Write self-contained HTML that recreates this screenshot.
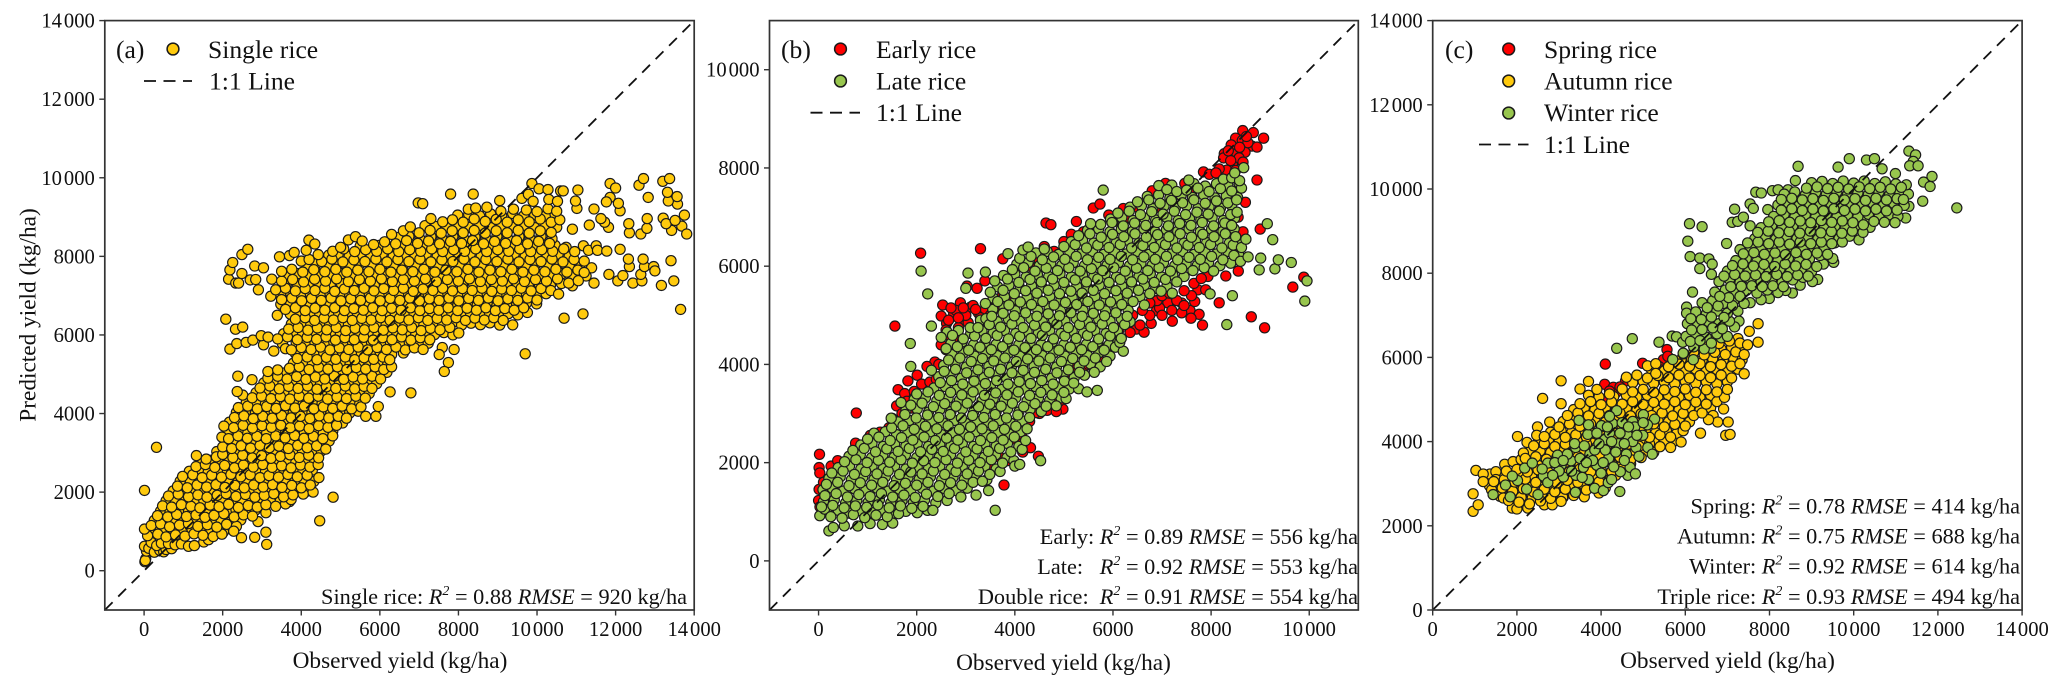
<!DOCTYPE html>
<html lang="en">
<head>
<meta charset="utf-8">
<title>Observed vs predicted rice yield</title>
<style>
html,body{margin:0;padding:0;background:#fff;width:2067px;height:688px;overflow:hidden}
svg{display:block;font-family:"Liberation Serif",serif;fill:#111}
</style>
</head>
<body>
<svg id="chart" xmlns="http://www.w3.org/2000/svg" width="2067" height="688" viewBox="0 0 2067 688">
  <rect x="0" y="0" width="2067" height="688" fill="#fff"/>
  <g id="marks"></g>

  <text x="116" y="58" font-size="25.6">(a)</text>
  <text x="208" y="58" font-size="25.6">Single rice</text>
  <text x="209" y="89.5" font-size="25.6">1:1 Line</text>

  <text x="781" y="58" font-size="25.6">(b)</text>
  <text x="876" y="58" font-size="25.6">Early rice</text>
  <text x="876" y="89.5" font-size="25.6">Late rice</text>
  <text x="876" y="121" font-size="25.6">1:1 Line</text>

  <text x="1445" y="58" font-size="25.6">(c)</text>
  <text x="1544" y="58" font-size="25.6">Spring rice</text>
  <text x="1544" y="89.5" font-size="25.6">Autumn rice</text>
  <text x="1544" y="121" font-size="25.6">Winter rice</text>
  <text x="1544" y="153" font-size="25.6">1:1 Line</text>

  <g font-size="22.3" text-anchor="end">
    <text x="687" y="604">Single rice: <tspan font-style="italic">R</tspan><tspan dy="-9" font-size="14" font-style="italic">2</tspan><tspan dy="9"> = 0.88 </tspan><tspan font-style="italic">RMSE</tspan> = 920 kg/ha</text>

    <text x="1358" y="544">Early: <tspan font-style="italic">R</tspan><tspan dy="-9" font-size="14" font-style="italic">2</tspan><tspan dy="9"> = 0.89 </tspan><tspan font-style="italic">RMSE</tspan> = 556 kg/ha</text>
    <text x="1358" y="574">Late:&#160;&#160;&#160;<tspan font-style="italic">R</tspan><tspan dy="-9" font-size="14" font-style="italic">2</tspan><tspan dy="9"> = 0.92 </tspan><tspan font-style="italic">RMSE</tspan> = 553 kg/ha</text>
    <text x="1358" y="604">Double rice:&#160;&#160;<tspan font-style="italic">R</tspan><tspan dy="-9" font-size="14" font-style="italic">2</tspan><tspan dy="9"> = 0.91 </tspan><tspan font-style="italic">RMSE</tspan> = 554 kg/ha</text>

    <text x="2020" y="513.5">Spring: <tspan font-style="italic">R</tspan><tspan dy="-9" font-size="14" font-style="italic">2</tspan><tspan dy="9"> = 0.78 </tspan><tspan font-style="italic">RMSE</tspan> = 414 kg/ha</text>
    <text x="2020" y="543.5">Autumn: <tspan font-style="italic">R</tspan><tspan dy="-9" font-size="14" font-style="italic">2</tspan><tspan dy="9"> = 0.75 </tspan><tspan font-style="italic">RMSE</tspan> = 688 kg/ha</text>
    <text x="2020" y="573.5">Winter: <tspan font-style="italic">R</tspan><tspan dy="-9" font-size="14" font-style="italic">2</tspan><tspan dy="9"> = 0.92 </tspan><tspan font-style="italic">RMSE</tspan> = 614 kg/ha</text>
    <text x="2020" y="604">Triple rice: <tspan font-style="italic">R</tspan><tspan dy="-9" font-size="14" font-style="italic">2</tspan><tspan dy="9"> = 0.93 </tspan><tspan font-style="italic">RMSE</tspan> = 494 kg/ha</text>
  </g>

  <g font-size="23.3" text-anchor="middle">
    <text x="400" y="668">Observed yield (kg/ha)</text>
    <text x="1063.5" y="670">Observed yield (kg/ha)</text>
    <text x="1727.5" y="668">Observed yield (kg/ha)</text>
    <text transform="translate(35.5 315) rotate(-90)">Predicted yield (kg/ha)</text>
  </g>
</svg>

<script>
// Tick values (kg/ha)
const ticksA = [0,2000,4000,6000,8000,10000,12000,14000];
const ticksB = [0,2000,4000,6000,8000,10000];
const ticksC = [0,2000,4000,6000,8000,10000,12000,14000];

// Each point is [observed, predicted] in kg/ha
const singleRice = [
[250,1020],[500,1050],[740,990],[980,1030],[1220,1060],[1460,1000],[1700,1040],[1920,1010],
[260,1280],[510,1310],[750,1250],[1000,1300],[1240,1260],[1470,1320],[1720,1270],[1960,1300],[2210,1250],[2460,1290],
[420,1520],[660,1490],[900,1550],[1130,1510],[1380,1540],[1620,1490],[1850,1530],[2100,1500],[2340,1550],[2590,1510],[2830,1540],
[560,1780],[800,1750],[1050,1800],[1280,1760],[1520,1790],[1780,1740],[2010,1800],[2260,1750],[2500,1790],[2740,1760],[2980,1800],[3220,1750],[3470,1790],[3700,1760],
[740,2030],[990,2060],[1240,2000],[1480,2050],[1710,2010],[1960,2060],[2210,2000],[2440,2040],[2680,2010],[2920,2060],[3160,2000],[3410,2050],[3650,2010],[3890,2060],[4130,2020],
[920,2280],[1170,2310],[1410,2250],[1650,2300],[1900,2260],[2130,2310],[2380,2250],[2620,2290],[2860,2260],[3100,2310],[3340,2250],[3590,2300],[3830,2260],[4070,2310],[4320,2270],
[1150,2530],[1390,2560],[1630,2500],[1870,2550],[2120,2510],[2370,2560],[2610,2500],[2840,2540],[3090,2510],[3320,2560],[3560,2500],[3800,2550],[4040,2510],[4280,2560],
[1450,2780],[1690,2810],[1920,2750],[2170,2800],[2410,2760],[2650,2810],[2890,2750],[3130,2790],[3380,2760],[3620,2810],[3860,2750],[4100,2800],[4340,2760],
[1850,3030],[2100,3060],[2350,3000],[2590,3050],[2830,3010],[3070,3060],[3310,3000],[3550,3040],[3790,3010],[4030,3060],[4270,3000],[4510,3050],
[2070,3280],[2310,3310],[2550,3250],[2790,3300],[3030,3260],[3270,3310],[3510,3250],[3750,3290],[3990,3260],[4230,3310],[4470,3250],[4710,3300],
[2120,3530],[2400,3560],[2640,3500],[2880,3550],[3120,3510],[3360,3560],[3600,3500],[3840,3540],[4080,3510],[4320,3560],[4560,3500],[4800,3550],
[2170,3780],[2410,3810],[2650,3750],[2890,3800],[3130,3760],[3370,3810],[3610,3750],[3850,3790],[4090,3760],[4330,3810],[4570,3750],[4810,3800],[5050,3760],
[2350,4030],[2590,4060],[2830,4000],[3070,4050],[3310,4010],[3550,4060],[3790,4000],[4030,4040],[4270,4010],[4510,4060],[4750,4000],[4990,4050],[5230,4010],[5450,4060],
[2600,4280],[2850,4310],[3090,4250],[3330,4300],[3570,4260],[3810,4310],[4050,4250],[4290,4290],[4530,4260],[4770,4310],[5010,4250],[5250,4300],[5490,4260],
[2850,4530],[3090,4560],[3330,4500],[3570,4550],[3810,4510],[4050,4560],[4290,4500],[4530,4540],[4770,4510],[5010,4560],[5250,4500],[5490,4550],[5730,4510],
[3050,4780],[3290,4810],[3530,4750],[3770,4800],[4010,4760],[4250,4810],[4490,4750],[4730,4790],[4970,4760],[5210,4810],[5450,4750],[5690,4800],[5920,4760],
[3550,5030],[3790,5060],[4030,5000],[4270,5050],[4510,5010],[4750,5060],[4990,5000],[5230,5040],[5470,5010],[5710,5060],[5950,5000],[6180,5050],
[3800,5280],[4040,5310],[4280,5250],[4520,5300],[4760,5260],[5000,5310],[5240,5250],[5480,5290],[5720,5260],[5960,5310],[6200,5250],
[3850,5530],[4090,5560],[4330,5500],[4570,5550],[4810,5510],[5050,5560],[5290,5500],[5530,5540],[5770,5510],[6010,5560],[6300,5500],[6600,5540],
[3520,5780],[3870,5810],[4110,5750],[4350,5800],[4590,5760],[4830,5810],[5070,5750],[5310,5790],[5550,5760],[5790,5810],[6030,5750],[6270,5800],[6510,5760],[6750,5810],[6990,5750],[7230,5790],
[3550,6030],[3790,6060],[4030,6000],[4270,6050],[4510,6010],[4750,6060],[4990,6000],[5230,6040],[5470,6010],[5710,6060],[5950,6000],[6190,6050],[6430,6010],[6670,6060],[6910,6000],[7150,6040],[7390,6010],[7630,6060],[7860,6000],
[3750,6280],[4000,6310],[4240,6250],[4480,6300],[4720,6260],[4960,6310],[5200,6250],[5440,6290],[5680,6260],[5920,6310],[6160,6250],[6400,6300],[6640,6260],[6880,6310],[7120,6250],[7360,6290],[7600,6260],[7840,6310],[8080,6250],[8320,6300],[8560,6260],[8800,6310],[9050,6250],
[3720,6530],[3980,6560],[4230,6500],[4470,6550],[4710,6510],[4950,6560],[5190,6500],[5430,6540],[5670,6510],[5910,6560],[6150,6500],[6390,6550],[6630,6510],[6870,6560],[7110,6500],[7350,6540],[7590,6510],[7830,6560],[8070,6500],[8310,6550],[8550,6510],[8790,6560],[9030,6500],[9270,6540],[9510,6510],
[3480,6780],[3730,6810],[3980,6750],[4230,6800],[4480,6760],[4730,6810],[4980,6750],[5230,6790],[5480,6760],[5730,6810],[5980,6750],[6230,6800],[6480,6760],[6730,6810],[6980,6750],[7230,6790],[7480,6760],[7730,6810],[7980,6750],[8230,6800],[8480,6760],[8730,6810],[8980,6750],[9230,6790],[9480,6760],[9730,6810],
[3480,7030],[3730,7060],[3980,7000],[4230,7050],[4480,7010],[4730,7060],[4980,7000],[5230,7040],[5480,7010],[5730,7060],[5980,7000],[6230,7050],[6480,7010],[6730,7060],[6980,7000],[7230,7040],[7480,7010],[7730,7060],[7980,7000],[8230,7050],[8480,7010],[8730,7060],[8980,7000],[9230,7040],[9480,7010],[9730,7060],[9980,7000],[10230,7050],
[3620,7280],[3900,7310],[4180,7250],[4460,7300],[4740,7260],[5020,7310],[5300,7250],[5580,7290],[5860,7260],[6140,7310],[6420,7250],[6700,7300],[6980,7260],[7260,7310],[7540,7250],[7820,7290],[8100,7260],[8380,7310],[8660,7250],[8940,7300],[9220,7260],[9500,7310],[9780,7250],[10060,7290],[10340,7260],[10620,7310],[10900,7250],
[3640,7530],[3920,7560],[4200,7500],[4480,7550],[4760,7510],[5040,7560],[5320,7500],[5600,7540],[5880,7510],[6160,7560],[6440,7500],[6720,7550],[7000,7510],[7280,7560],[7560,7500],[7840,7540],[8120,7510],[8400,7560],[8680,7500],[8960,7550],[9240,7510],[9520,7560],[9800,7500],[10080,7540],[10360,7510],[10640,7560],[10920,7500],[11250,7500],
[4140,7780],[4380,7810],[4660,7750],[4940,7800],[5220,7760],[5500,7810],[5780,7750],[6060,7790],[6340,7760],[6620,7810],[6900,7750],[7180,7790],[7460,7760],[7740,7810],[8020,7750],[8300,7800],[8580,7760],[8860,7810],[9140,7750],[9420,7790],[9700,7760],[9980,7810],[10260,7750],[10540,7800],[10820,7760],[11100,7790],
[4700,8030],[4940,8060],[5220,8000],[5500,8050],[5780,8010],[6060,8060],[6340,8000],[6620,8040],[6900,8010],[7180,8060],[7460,8000],[7740,8050],[8020,8010],[8300,8060],[8580,8000],[8860,8040],[9140,8010],[9420,8060],[9700,8000],[9980,8050],[10260,8010],[10540,8060],[10820,8000],
[5500,8260],[5980,8280],[6260,8230],[6540,8280],[6820,8240],[7100,8290],[7380,8230],[7660,8270],[7940,8240],[8220,8290],[8500,8230],[8780,8280],[9060,8240],[9340,8290],[9620,8230],[9900,8270],[10180,8240],[10460,8280],[10740,8230],
[6460,8480],[6740,8510],[7020,8450],[7300,8500],[7580,8460],[7860,8510],[8140,8450],[8420,8490],[8700,8460],[8980,8510],[9260,8450],[9540,8500],[9820,8460],[10100,8510],[10380,8450],
[7150,8780],[7420,8760],[7700,8740],[7980,8780],[8260,8740],[8540,8790],[8820,8730],[9100,8770],[9380,8740],[9660,8790],[9940,8730],[10220,8770],[10500,8740],
[7980,9050],[8260,9070],[8540,9030],[8820,9080],[9100,9040],[9380,9090],[9660,9030],[9940,9060],[10220,9030],[10460,9070],
[20,230],[40,300],[30,260],[60,500],[10,620],[120,570],[260,470],[400,520],[500,480],[560,540],[700,560],[180,720],[320,640],[440,700],[620,690],[790,660],[950,680],[1130,620],[1280,640],[1520,730],[1640,790],[1850,950],[2020,990],
[90,890],[350,930],[560,860],[800,910],[1040,880],[1270,940],[1500,900],[1760,870],[1980,930],[10,1060],
[180,1150],[420,1190],[650,1120],[900,1160],[1130,1200],[1370,1130],[1610,1170],[1850,1110],[2100,1180],[2350,1130],[2900,1250],[3100,980],[3120,670],[2815,850],[2480,840],[2280,1005],
[340,1400],[600,1370],[830,1430],[1080,1380],[1320,1420],[1550,1360],[1780,1410],[2030,1450],[2290,1370],[2530,1420],[2760,1390],[3100,1475],[4470,1270],
[470,1650],[700,1620],[950,1680],[1190,1640],[1420,1600],[1680,1670],[1910,1630],[2150,1690],[2400,1610],[2650,1660],[2880,1620],[3100,1680],[3350,1640],[3600,1700],[3740,1810],
[620,1900],[870,1950],[1130,1880],[1370,1930],[1600,1870],[1860,1920],[2090,1960],[2340,1890],[2580,1940],[2820,1870],[3060,1920],[3300,1960],[3550,1880],[3790,1930],[4050,1950],[4300,2000],[4810,1870],[10,2045],
[850,2150],[1100,2110],[1350,2180],[1590,2130],[1830,2190],[2060,2120],[2310,2170],[2550,2110],[2790,2180],[3030,2130],[3270,2190],[3510,2120],[3760,2170],[4000,2110],[4230,2180],
[980,2400],[1240,2440],[1480,2370],[1720,2430],[1970,2380],[2210,2450],[2460,2390],[2700,2440],[2950,2370],[3180,2420],[3420,2380],[3660,2450],[3900,2390],[4150,2430],[4450,2370],
[1320,2650],[1560,2700],[1800,2630],[2050,2680],[2300,2620],[2530,2690],[2780,2640],[3020,2700],[3260,2630],[3500,2670],[3740,2620],[3980,2690],[4220,2640],[4430,2700],[1330,2930],
[1580,2840],[1840,2900],[2000,2960],[2260,2880],[2510,2940],[2750,2870],[2990,2930],[3230,2860],[3470,2910],[3710,2950],[3950,2880],[4190,2940],[4440,2870],[315,3140],
[2000,3150],[2230,3110],[2470,3180],[2710,3120],[2950,3190],[3190,3130],[3430,3170],[3670,3110],[3910,3190],[4150,3130],[4390,3180],[4625,3095],
[1980,3400],[2150,3360],[2390,3430],[2630,3370],[2870,3420],[3110,3360],[3350,3430],[3590,3380],[3830,3440],[4070,3370],[4310,3420],[4550,3360],[4800,3430],
[2030,3680],[2280,3640],[2520,3700],[2760,3630],[3000,3690],[3240,3650],[3480,3700],[3720,3640],[3960,3680],[4200,3620],[4440,3690],[4680,3650],[4900,3700],
[2300,3900],[2540,3940],[2780,3870],[3020,3930],[3260,3880],[3500,3950],[3740,3890],[3980,3930],[4220,3870],[4460,3940],[4700,3890],[4940,3930],[5150,3880],[5640,3930],[5900,3930],
[2400,4150],[2640,4190],[2880,4120],[3120,4180],[3360,4130],[3600,4200],[3840,4140],[4080,4190],[4320,4120],[4560,4170],[4800,4130],[5040,4190],[5280,4120],[5520,4170],[5960,4180],
[2510,4470],[2370,4560],[2750,4400],[2990,4440],[3230,4380],[3470,4430],[3710,4370],[3950,4440],[4190,4390],[4430,4440],[4670,4370],[4910,4420],[5150,4380],[5390,4440],[5630,4390],[6260,4550],[6790,4525],
[2950,4650],[3200,4700],[3440,4630],[3680,4690],[3920,4640],[4160,4700],[4400,4620],[4640,4680],[4880,4640],[5120,4700],[5360,4630],[5600,4690],[5800,4640],
[2385,4950],[2745,4860],[3150,4900],[3400,4950],[3640,4880],[3880,4940],[4120,4870],[4360,4930],[4600,4880],[4840,4950],[5080,4870],[5320,4930],[5560,4880],[5800,4950],[6020,4880],
[3150,5070],[3400,5110],[3700,5150],[3950,5190],[4200,5120],[4440,5180],[4680,5130],[4920,5190],[5160,5120],[5400,5170],[5640,5130],[5880,5190],[6100,5120],[6300,5190],
[3900,5400],[4150,5440],[4400,5370],[4640,5430],[4880,5380],[5120,5440],[5360,5370],[5600,5420],[5840,5380],[6080,5440],[6250,5370],
[3600,5650],[3750,5620],[4000,5680],[4250,5630],[4490,5690],[4730,5620],[4970,5670],[5210,5630],[5450,5690],[5690,5620],[5930,5680],[6170,5630],[6410,5690],[6650,5620],[6880,5670],[7100,5630],[7890,5630],[7590,5680],[7510,5500],[7745,5300],[7640,5070],[9700,5520],
[2185,5640],[2360,5780],[2595,5810],[2770,5870],[3040,5750],[3300,5590],[2980,5980],[3155,5945],[2325,6145],[2510,6200],[2080,6400],
[3400,5900],[3650,5950],[3900,5880],[4150,5940],[4390,5890],[4630,5950],[4870,5870],[5110,5930],[5350,5880],[5590,5940],[5830,5870],[6070,5930],[6310,5880],[6550,5950],[6790,5870],[7030,5930],[7270,5880],
[3680,6150],[3920,6190],[4170,6120],[4410,6180],[4650,6130],[4890,6190],[5130,6110],[5370,6170],[5610,6130],[5850,6190],[6090,6120],[6330,6180],[6570,6130],[6810,6190],[7050,6110],[7290,6170],[7530,6130],[7780,6190],[8010,6050],[9380,6255],
[3390,6500],[3850,6400],[4100,6440],[4340,6370],[4580,6430],[4820,6380],[5060,6440],[5300,6370],[5540,6420],[5780,6380],[6020,6440],[6260,6370],[6500,6430],[6740,6380],[6980,6440],[7220,6370],[7460,6420],[7700,6380],[7940,6440],[8180,6370],[8420,6430],[8660,6380],[8900,6440],[9140,6370],[9755,6570],
[3600,6650],[3850,6690],[4100,6620],[4350,6680],[4600,6630],[4850,6690],[5100,6620],[5340,6670],[5580,6630],[5820,6690],[6060,6620],[6300,6680],[6540,6630],[6780,6690],[7020,6620],[7260,6670],[7500,6630],[7740,6690],[7980,6620],[8220,6680],[8460,6630],[8700,6690],[8940,6620],[9180,6670],[9420,6630],[9660,6690],[9990,6790],[10690,6425],[11170,6535],[13655,6650],
[3225,6985],[3500,6900],[3760,6940],[4010,6870],[4260,6930],[4510,6880],[4760,6940],[5010,6870],[5260,6920],[5510,6880],[5760,6940],[6010,6870],[6260,6930],[6510,6880],[6760,6940],[7010,6870],[7260,6920],[7510,6880],[7760,6940],[8010,6870],[8260,6930],[8510,6880],[8760,6940],[9010,6870],[9260,6920],[9510,6880],[9760,6940],[10000,6890],
[2910,7150],[3350,7150],[3600,7190],[3850,7120],[4100,7180],[4350,7130],[4600,7190],[4850,7110],[5100,7170],[5350,7130],[5600,7190],[5850,7120],[6100,7180],[6350,7130],[6600,7190],[6850,7110],[7100,7170],[7350,7130],[7600,7190],[7850,7120],[8100,7180],[8350,7130],[8600,7190],[8850,7110],[9100,7170],[9350,7130],[9600,7190],[9850,7120],[10100,7180],[10350,7130],[10550,7040],
[2150,7420],[2335,7320],[2405,7320],[2700,7400],[2840,7410],[3250,7420],[3500,7370],[3780,7410],[4060,7350],[4340,7420],[4620,7370],[4900,7430],[5200,7360],[5480,7410],[5760,7370],[6040,7430],[6320,7360],[6600,7410],[6880,7370],[7160,7430],[7440,7360],[7720,7410],[8000,7370],[8280,7430],[8560,7360],[8840,7410],[9120,7370],[9400,7430],[9680,7360],[9960,7410],[10240,7370],[10520,7430],[10805,7320],[11050,7380],[11450,7320],[12055,7375],[12440,7320],[12670,7375],[13165,7260],[13480,7375],
[2185,7655],[2490,7565],[3500,7620],[3760,7670],[4040,7600],[4320,7660],[4600,7610],[4880,7670],[5160,7600],[5440,7650],[5720,7610],[6000,7670],[6280,7600],[6560,7650],[6840,7610],[7120,7670],[7400,7600],[7680,7650],[7960,7610],[8240,7670],[8520,7600],[8800,7650],[9080,7610],[9360,7670],[9640,7600],[9920,7650],[10200,7610],[10480,7670],[10760,7600],[11040,7650],[11390,7710],[11830,7540],[12185,7510],[12640,7540],[11200,7590],[12350,7740],[12735,7740],[12970,7740],[13000,7630],
[2255,7845],[2815,7755],[3040,7710],[3445,7990],[3700,8020],[3820,8100],[4000,7880],[4200,7920],[4520,7870],[4780,7930],[5060,7860],[5340,7910],[5620,7870],[5900,7930],[6180,7860],[6460,7920],[6740,7870],[7020,7930],[7300,7860],[7580,7910],[7860,7870],[8140,7930],[8420,7860],[8700,7920],[8980,7870],[9260,7930],[9540,7860],[9820,7920],[10100,7870],[10380,7930],[10660,7860],[10940,7920],[11200,7880],[12325,7930],[12700,7930],[13410,7890],
[2490,8045],[2640,8180],[4125,8155],[4195,8415],[4345,8315],[4430,8045],[4800,8130],[5080,8190],[5360,8120],[5640,8170],[5920,8130],[6200,8190],[6480,8120],[6760,8170],[7040,8130],[7320,8190],[7600,8120],[7880,8170],[8160,8130],[8440,8190],[8720,8120],[9000,8170],[9280,8130],[9560,8190],[9840,8120],[10120,8170],[10400,8130],[10680,8190],[10960,8120],[11180,8270],[11310,8155],[11505,8270],[11540,8155],[11775,8135],[12115,8180],
[5000,8230],[5200,8420],[5380,8500],[5550,8390],[5840,8300],[6120,8370],[6400,8320],[6680,8400],[6960,8330],[7240,8390],[7520,8320],[7800,8380],[8080,8330],[8360,8400],[8640,8320],[8920,8380],[9200,8330],[9480,8400],[9760,8320],[10040,8380],[10320,8330],
[6300,8560],[6600,8650],[6775,8750],[7000,8600],[7280,8660],[7560,8590],[7840,8650],[8120,8600],[8400,8660],[8680,8590],[8960,8650],[9240,8600],[9520,8660],[9800,8590],[10080,8650],[10360,8610],[10900,8690],[11820,8740],[12640,8570],[12350,8600],[12795,8715],[13425,8660],[13685,8770],[13810,8570],[12335,8830],[11330,8795],
[7300,8960],[7600,8880],[7850,8930],[8120,8870],[8400,8950],[8680,8890],[8960,8940],[9240,8870],[9520,8930],[9800,8880],[10080,8950],[10360,8870],[10580,8930],[11720,8870],[11625,8960],[12805,8960],[13210,8970],[13285,8830],[13515,8915],
[8250,9200],[8440,9230],[8725,9250],[9080,9150],[9400,9200],[9615,9475],[9730,9180],[10000,9140],[10280,9210],[10500,9150],[11015,9220],[11450,9205],[12115,9160],[13750,9050],[12070,9350],[13575,9330],[13340,9410],
[9050,9420],[9870,9855],[10050,9720],[10280,9700],[10600,9665],[10665,9665],[11040,9690],[10980,9410],[10300,9450],[10520,9400],[9780,9580],[9900,9400],[11860,9855],[12000,9740],[11860,9500],[11765,9385],[12595,9810],[12710,9980],[12830,9500],[13200,9910],[13375,9980],[13320,9630],[13565,9520],
[7800,9585],[8375,9585],[6975,9360],[7090,9340]
];

const earlyRice = [
[20,2170],[10,1900],[25,1790],[10,1455],[0,1230],[30,1100],[255,1930],[390,2040],[120,1380],[100,1600],[220,1520],[770,3010],[1055,2555],[1255,2620],[755,2395],[1000,2400],[900,2340],[1435,2710],[1555,4780],[2080,6265],[3300,6355],[3390,5700],[3025,5595],[3230,5550],[2530,5210],[2500,4985],[2610,4835],[2890,5255],[2755,5030],[2935,4900],[3255,5050],[3100,5170],[3400,5120],[3550,5100],[3755,6150],[3755,5435],[3980,5300],[3600,5300],[3780,1545],[4480,2130],[4160,2215],[4320,2305],[4980,3090],[4660,3065],[4845,3040],[4635,6880],[4735,6845],[5255,6910],[5600,7185],[5735,7265],[5915,7040],[6210,7175],[6800,7535],[7070,7685],[7465,7685],[7845,7920],[8935,7755],[9000,6755],[8555,5900],[9890,5775],[9665,5575],[9090,4745],[8820,4970],[8165,5255],[7825,4800],[7570,5100],[7210,4880],[6780,4835],[6890,5095],[7755,5020],[7590,4940],[7665,5280],[7730,5520],[7890,5520],[7935,5790],[7120,5255],[6480,4720],[6635,4655],[6120,4700],[5890,4360],[5390,3895],
[8645,8760],[8860,8720],[9070,8605],[8500,8605],[8635,8560],[8410,8470],[8830,8445],[8690,8320],[8270,8290],[8410,8290],[8435,8070],[8320,7955],[8165,7980],[7965,7870],[8935,8425],[8255,8205],[8525,8290],[8750,8515],[8570,8205],[8100,7900],[8400,8150],[8650,8120],[8500,7950],[8350,8350],[8580,8420],[8720,8640],
[1620,3485],[1820,3665],[2010,3780],[2370,4050],[2210,3960],[1755,3405],[1590,3155],[1890,3110],[2100,3600],[2270,3640],[2400,3700],[1950,3450],[1800,3250],[1700,3000],[1500,2900],[2450,4000],[2600,4300],[2700,4550],[2850,4750],[3050,4850],[3300,4900],[2600,4700],[2800,4500],[2500,4400],
[2650,4900],[2800,5100],[3000,5000],[3150,5200],[3300,4950],[3500,5000],[2700,5150],[2950,5150],[3600,5150],[3450,4850],[3200,5120],[2850,4950],
[6150,4500],[6350,4650],[6550,4800],[6750,5000],[6950,5150],[7200,5100],[7400,5250],[7600,5400],[7400,5050],[7000,5000],[6300,4850],[5950,4550],[5700,4150],[5500,4000],[5250,3950],[5100,3800],[5000,3500],[4900,3250],[4700,3200],[4500,3000],[4300,2840],[4435,3020],[4150,2620],[3980,2485],[4070,2575],[4160,2395],[3845,2040],[3700,2100],[3500,1900],
[6900,5300],[7300,5300],[7000,5400],[7450,5500],[7650,5650],[7150,5450],[6600,5100],[6400,5000],[6200,4850],[7800,5750],[7450,5200],[6750,5250],
[6900,7200],[7250,7450],[7600,7500],[7900,7600],[6500,7200],[6300,7000],[6000,6900],[5700,6800],[5400,6700],[5150,6650],[5000,6500],[4800,6300],[4500,6100],[4300,6000],[4600,6400],[8300,5800],[8500,6300],[8650,6700],[8550,7000],[8700,7300]
];

const lateRice = [
[170,1000],[400,1030],[630,970],[860,1020],[1090,980],[1320,1030],[1550,970],[1780,1010],[2010,980],[2220,1030],
[100,1210],[320,1240],[550,1180],[780,1230],[1010,1190],[1240,1240],[1470,1180],[1700,1220],[1930,1190],[2160,1240],[2390,1180],[2620,1230],
[90,1450],[280,1480],[500,1420],[730,1470],[960,1430],[1190,1480],[1420,1420],[1650,1460],[1880,1430],[2110,1480],[2340,1420],[2570,1470],[2800,1430],[3030,1480],
[210,1680],[440,1710],[670,1650],[900,1700],[1130,1660],[1360,1710],[1590,1650],[1820,1690],[2050,1660],[2280,1710],[2510,1650],[2740,1700],[2970,1660],[3200,1710],[3430,1650],
[400,1900],[630,1930],[860,1870],[1090,1920],[1320,1880],[1550,1930],[1780,1870],[2010,1910],[2240,1880],[2470,1930],[2700,1870],[2930,1920],[3160,1880],[3390,1930],[3620,1870],
[620,2130],[850,2160],[1080,2100],[1310,2150],[1540,2110],[1770,2160],[2000,2100],[2230,2140],[2460,2110],[2690,2160],[2920,2100],[3150,2150],[3380,2110],[3610,2160],[3840,2100],
[860,2360],[1090,2390],[1320,2330],[1550,2380],[1780,2340],[2010,2390],[2240,2330],[2470,2370],[2700,2340],[2930,2390],[3160,2330],[3390,2380],[3620,2340],[3850,2390],[4080,2330],
[1130,2600],[1360,2630],[1590,2570],[1820,2620],[2050,2580],[2280,2630],[2510,2570],[2740,2610],[2970,2580],[3200,2630],[3430,2570],[3660,2620],[3890,2580],[4120,2630],
[1620,2830],[1850,2860],[2080,2800],[2310,2850],[2540,2810],[2770,2860],[3000,2800],[3230,2840],[3460,2810],[3690,2860],[3920,2800],[4150,2850],
[1780,3060],[2010,3090],[2240,3030],[2470,3080],[2700,3040],[2930,3090],[3160,3030],[3390,3070],[3620,3040],[3850,3090],[4080,3030],[4310,3080],[4540,3040],
[1950,3290],[2180,3320],[2410,3260],[2640,3310],[2870,3270],[3100,3320],[3330,3260],[3560,3300],[3790,3270],[4020,3320],[4250,3260],[4480,3310],[4710,3270],[4940,3320],
[2350,3520],[2580,3550],[2810,3490],[3040,3540],[3270,3500],[3500,3550],[3730,3490],[3960,3530],[4190,3500],[4420,3550],[4650,3490],[4880,3540],[5110,3500],
[2450,3750],[2680,3780],[2910,3720],[3140,3770],[3370,3730],[3600,3780],[3830,3720],[4060,3760],[4290,3730],[4520,3780],[4750,3720],[4980,3770],[5210,3730],[5420,3780],
[2550,3980],[2780,4010],[3010,3950],[3240,4000],[3470,3960],[3700,4010],[3930,3950],[4160,3990],[4390,3960],[4620,4010],[4850,3950],[5080,4000],[5310,3960],[5540,4010],[5740,3950],
[2720,4200],[2950,4230],[3180,4170],[3410,4220],[3640,4180],[3870,4230],[4100,4170],[4330,4210],[4560,4180],[4790,4230],[5020,4170],[5250,4220],[5480,4180],[5710,4230],[5940,4170],
[2700,4430],[2930,4460],[3160,4400],[3390,4450],[3620,4410],[3850,4460],[4080,4400],[4310,4440],[4540,4410],[4770,4460],[5000,4400],[5230,4450],[5460,4410],[5690,4460],[5920,4400],[6100,4450],
[2620,4660],[2850,4690],[3100,4630],[3330,4680],[3560,4640],[3790,4690],[4020,4630],[4250,4670],[4480,4640],[4710,4690],[4940,4630],[5170,4680],[5400,4640],[5630,4690],[5860,4630],[6090,4680],
[3300,4900],[3410,4930],[3640,4870],[3870,4920],[4100,4880],[4330,4930],[4560,4870],[4790,4910],[5020,4880],[5250,4930],[5480,4870],[5710,4920],[5940,4880],[6170,4930],[6350,4870],
[3550,5120],[3780,5150],[4010,5090],[4240,5140],[4470,5100],[4700,5150],[4930,5090],[5160,5130],[5390,5100],[5620,5150],[5850,5090],[6080,5140],[6310,5100],
[3560,5350],[3790,5380],[4020,5320],[4250,5370],[4480,5330],[4710,5380],[4940,5320],[5170,5360],[5400,5330],[5630,5380],[5860,5320],[6090,5370],[6320,5330],[6550,5380],
[3650,5580],[3880,5610],[4110,5550],[4340,5600],[4570,5560],[4800,5610],[5030,5550],[5260,5590],[5490,5560],[5720,5610],[5950,5550],[6180,5600],[6410,5560],[6640,5610],[6870,5550],[7100,5590],
[3770,5810],[4000,5840],[4230,5780],[4460,5830],[4690,5790],[4920,5840],[5150,5780],[5380,5820],[5610,5790],[5840,5840],[6070,5780],[6300,5830],[6530,5790],[6760,5840],[6990,5780],[7220,5820],[7450,5790],
[4040,6040],[4270,6070],[4500,6010],[4730,6060],[4960,6020],[5190,6070],[5420,6010],[5650,6050],[5880,6020],[6110,6070],[6340,6010],[6570,6060],[6800,6020],[7030,6070],[7260,6010],[7490,6050],[7720,6020],[7950,6070],[8180,6010],[8400,6060],
[4430,6270],[4660,6300],[4890,6240],[5120,6290],[5350,6250],[5580,6300],[5810,6240],[6040,6280],[6270,6250],[6500,6300],[6730,6240],[6960,6290],[7190,6250],[7420,6300],[7650,6240],[7880,6280],[8110,6250],[8340,6300],[8560,6240],
[5150,6500],[5380,6530],[5610,6470],[5840,6520],[6070,6480],[6300,6530],[6530,6470],[6760,6510],[6990,6480],[7220,6530],[7450,6470],[7680,6520],[7910,6480],[8140,6530],[8370,6470],[8600,6510],
[5480,6730],[5710,6760],[5940,6700],[6170,6750],[6400,6710],[6630,6760],[6860,6700],[7090,6740],[7320,6710],[7550,6760],[7780,6700],[8010,6750],[8240,6710],[8470,6760],
[5950,6960],[6180,6990],[6410,6930],[6640,6980],[6870,6940],[7100,6990],[7330,6930],[7560,6970],[7790,6940],[8020,6990],[8250,6930],[8480,6980],
[6350,7200],[6580,7230],[6810,7170],[7040,7220],[7270,7180],[7500,7230],[7730,7170],[7960,7210],[8190,7180],[8420,7230],
[6700,7420],[6930,7450],[7160,7390],[7390,7440],[7620,7400],[7850,7450],[8080,7390],[8310,7430],[8540,7400],
[7200,7650],[7650,7680],[7880,7630],[8110,7680],[8340,7640],[8570,7690],
[210,610],[525,715],[1510,770],[25,920],[120,1055],[300,680],[800,710],[1050,760],[1300,740],[250,900],[480,870],[710,940],[940,880],[1170,930],[1400,900],[1630,960],
[60,1100],[290,1130],[520,1080],[750,1120],[980,1090],[1210,1140],[1440,1080],[1670,1120],[1900,1070],[2130,1110],[2330,1030],[3600,1030],
[130,1330],[360,1370],[590,1300],[820,1350],[1050,1310],[1280,1370],[1510,1300],[1740,1340],[1970,1290],[2200,1360],[2430,1310],[2660,1370],[2900,1300],[3210,1340],[3465,1430],
[160,1560],[390,1600],[620,1530],[850,1590],[1080,1540],[1310,1600],[1540,1530],[1770,1580],[2000,1540],[2230,1600],[2460,1530],[2690,1590],[2920,1540],[3150,1600],[3340,1620],
[270,1790],[500,1830],[730,1760],[960,1820],[1190,1770],[1420,1830],[1650,1760],[1880,1810],[2110,1770],[2340,1830],[2570,1760],[2800,1820],[3030,1770],[3260,1830],[3490,1760],[3700,1820],
[530,2020],[760,2060],[990,2000],[1220,2050],[1450,2010],[1680,2060],[1910,1990],[2140,2040],[2370,2000],[2600,2060],[2830,1990],[3060,2050],[3290,2000],[3520,2060],[3750,1990],[3980,2040],[4000,1930],[4100,1965],[4525,2040],
[700,2250],[930,2290],[1160,2220],[1390,2280],[1620,2230],[1850,2290],[2080,2220],[2310,2270],[2540,2230],[2770,2290],[3000,2220],[3230,2280],[3460,2230],[3690,2290],[3920,2220],[4150,2270],
[1000,2480],[1230,2520],[1460,2450],[1690,2510],[1920,2460],[2150,2520],[2380,2450],[2610,2500],[2840,2460],[3070,2520],[3300,2450],[3530,2510],[3760,2460],[3990,2520],[4220,2450],
[1490,2710],[1720,2750],[1950,2680],[2180,2740],[2410,2690],[2640,2750],[2870,2680],[3100,2730],[3330,2690],[3560,2750],[3790,2680],[4020,2740],[4250,2690],
[1480,2905],[1680,3225],[1760,2980],[1990,2910],[2220,2970],[2450,2920],[2680,2980],[2910,2910],[3140,2960],[3370,2920],[3600,2980],[3830,2910],[4060,2970],[4300,2920],
[1880,3170],[2110,3210],[2340,3140],[2570,3200],[2800,3150],[3030,3210],[3260,3140],[3490,3190],[3720,3150],[3950,3210],[4180,3140],[4410,3200],[4640,3150],[4845,3155],[5045,3305],
[2000,3400],[2230,3440],[2460,3370],[2690,3430],[2920,3380],[3150,3440],[3380,3370],[3610,3420],[3840,3380],[4070,3440],[4300,3370],[4530,3430],[4760,3380],[5000,3430],[5300,3505],[5470,3440],[5680,3470],
[2480,3630],[2710,3670],[2940,3600],[3170,3660],[3400,3610],[3630,3670],[3860,3600],[4090,3650],[4320,3610],[4550,3670],[4780,3600],[5010,3660],[5200,3620],
[1880,3960],[2300,3880],[2560,3860],[2790,3900],[3020,3830],[3250,3890],[3480,3840],[3710,3900],[3940,3830],[4170,3880],[4400,3840],[4630,3900],[4860,3830],[5090,3890],[5320,3840],[5620,3840],
[2650,4090],[2880,4130],[3110,4060],[3340,4120],[3570,4070],[3800,4130],[4030,4060],[4260,4110],[4490,4070],[4720,4130],[4950,4060],[5180,4120],[5410,4070],[5640,4130],[5870,4060],[1870,4425],
[2600,4320],[2830,4360],[3060,4290],[3290,4350],[3520,4300],[3750,4360],[3980,4290],[4210,4340],[4440,4300],[4670,4360],[4900,4290],[5130,4350],[5360,4300],[5590,4360],[5820,4290],[6050,4350],[6210,4270],[6140,4450],
[2500,4550],[2730,4590],[2950,4520],[3180,4580],[3410,4530],[3640,4590],[3870,4520],[4100,4570],[4330,4530],[4560,4590],[4790,4520],[5020,4580],[5250,4530],[5480,4590],[5710,4520],[5940,4580],[6170,4530],[2300,4780],
[3090,4750],[3250,4750],[3480,4810],[3710,4760],[3940,4820],[4170,4750],[4400,4800],[4630,4760],[4860,4820],[5090,4750],[5320,4810],[5550,4760],[5780,4820],[6010,4750],[6240,4810],
[3530,4980],[3760,5040],[3990,4990],[4220,5050],[4450,4980],[4680,5030],[4910,4990],[5140,5050],[5370,4980],[5600,5040],[5830,4990],[6060,5050],[6290,4980],
[3400,5240],[3650,5280],[3880,5210],[4110,5270],[4340,5220],[4570,5280],[4800,5210],[5030,5260],[5260,5220],[5490,5280],[5720,5210],[5950,5270],[6180,5220],[6410,5280],[6640,5210],[8320,4810],[8435,5400],[7980,5435],[2225,5435],
[3000,5550],[3500,5470],[3760,5510],[3990,5440],[4220,5500],[4450,5450],[4680,5510],[4910,5440],[5140,5490],[5370,5450],[5600,5510],[5830,5440],[6060,5500],[6290,5450],[6520,5510],[6750,5440],[6980,5490],[7210,5450],
[3045,5860],[2090,5900],[3590,5700],[3850,5740],[4080,5670],[4310,5730],[4540,5680],[4770,5740],[5000,5670],[5230,5720],[5460,5680],[5690,5740],[5920,5670],[6150,5730],[6380,5680],[6610,5740],[6840,5670],[7070,5730],[7300,5680],
[3400,5880],[3950,5930],[4180,5970],[4410,5900],[4640,5960],[4870,5910],[5100,5970],[5330,5900],[5560,5950],[5790,5910],[6020,5970],[6250,5900],[6480,5960],[6710,5910],[6940,5970],[7170,5900],[7400,5950],[7630,5910],[7860,5970],[8050,5900],[8980,5925],[9300,5945],[9635,6075],[9370,6130],
[3860,6255],[4100,6160],[4330,6200],[4560,6130],[4790,6190],[5020,6140],[5250,6200],[5480,6130],[5710,6180],[5940,6140],[6170,6200],[6400,6130],[6630,6190],[6860,6140],[7090,6200],[7320,6130],[7550,6180],[7780,6140],[8010,6200],[8240,6130],[8465,6220],[8600,6100],[8755,6190],[9010,6165],
[4165,6330],[4270,6390],[4600,6350],[5000,6400],[5230,6440],[5460,6370],[5690,6430],[5920,6380],[6150,6440],[6380,6370],[6610,6420],[6840,6380],[7070,6440],[7300,6370],[7530,6430],[7760,6380],[7990,6440],[8220,6370],[8450,6430],[8620,6380],[8710,6550],[9255,6540],[9955,5700],[9910,5290],
[5300,6620],[5530,6660],[5760,6590],[5990,6650],[6220,6600],[6450,6660],[6680,6590],[6910,6640],[7140,6600],[7370,6660],[7600,6590],[7830,6650],[8060,6600],[8290,6660],[8500,6600],
[5545,6865],[5750,6850],[5980,6890],[6210,6820],[6440,6880],[6670,6830],[6900,6890],[7130,6820],[7360,6870],[7590,6830],[7820,6890],[8050,6820],[8280,6880],[8420,6830],[9145,6865],
[6100,7080],[6330,7120],[6560,7050],[6790,7110],[7020,7060],[7250,7120],[7480,7050],[7710,7100],[7940,7060],[8170,7120],[8400,7050],[8530,7100],
[6500,7310],[6730,7350],[6960,7280],[7190,7340],[7420,7290],[7650,7350],[7880,7280],[8110,7330],[8340,7290],[8520,7350],
[5800,7550],[6935,7640],[7100,7560],[7300,7520],[7545,7755],[7500,7550],[7730,7590],[7960,7520],[8190,7580],[8420,7530],[8620,7590],
[8250,7770],[8420,7800],[8580,7740],[8665,8005],[8480,7900]
];

const springRice = [
[4100,5840],[4085,5360],[4290,5290],[4350,5160],[4580,5440],[4985,5860],[5565,6185],[5480,5945],[5375,5785],[6430,6380],[4055,4985],[5585,6025],[6590,5580],[4200,5200],[5650,5800],[5450,5700],[6500,6300],[5250,5650],[4450,5300]
];

const autumnRice = [
[1600,2700],[1850,2740],[2100,2680],[2350,2730],[2600,2690],[2850,2740],[3100,2680],[3350,2720],[3600,2690],
[1350,2950],[1600,2980],[1850,2930],[2100,2970],[2350,2920],[2600,2980],[2850,2930],[3100,2970],[3350,2920],[3600,2960],[3850,2920],[4050,2970],
[1600,3180],[1850,3210],[2100,3170],[2350,3200],[2600,3160],[2850,3210],[3100,3170],[3350,3200],[3600,3160],[3850,3210],[4100,3170],[4350,3200],
[2000,3450],[2250,3480],[2500,3440],[2750,3470],[3000,3430],[3250,3480],[3500,3440],[3750,3470],[4000,3430],[4250,3480],[4500,3440],[4700,3470],
[2300,3750],[2550,3780],[2800,3740],[3050,3770],[3300,3730],[3550,3780],[3800,3740],[4050,3770],[4300,3730],[4550,3780],[4800,3740],[5050,3770],[5250,3740],
[2500,3980],[2750,4040],[3000,3990],[3250,4030],[3500,3980],[3750,4040],[4000,3990],[4250,4030],[4500,3980],[4750,4040],[5000,3990],[5250,4030],[5500,3980],[5750,4020],
[2800,4220],[3050,4260],[3300,4210],[3550,4250],[3800,4200],[4050,4260],[4300,4210],[4550,4250],[4800,4200],[5050,4250],[5300,4210],[5550,4260],[5800,4200],
[3100,4480],[3350,4520],[3600,4470],[3850,4510],[4100,4460],[4350,4520],[4600,4470],[4850,4510],[5100,4460],[5350,4510],[5600,4470],[5850,4520],[6100,4470],
[3350,4760],[3600,4800],[3850,4750],[4100,4790],[4350,4740],[4600,4800],[4850,4750],[5100,4790],[5350,4740],[5600,4790],[5850,4750],[6100,4800],[6350,4750],[6600,4800],
[3700,5100],[3950,5060],[4300,5070],[4600,5100],[4850,5050],[5100,5100],[5350,5050],[5600,5100],[5850,5050],[6100,5100],[6350,5050],[6600,5100],[6850,5080],
[4750,5400],[5000,5430],[5250,5380],[5500,5420],[5750,5370],[6000,5430],[6250,5380],[6500,5420],[6750,5370],[7000,5420],
[5200,5700],[5500,5680],[5750,5710],[6000,5660],[6250,5720],[6500,5670],[6750,5710],[7000,5670],[7250,5720],
[5900,5950],[6150,5960],[6400,5930],[6650,5970],[6900,5930],[7150,5970],[7350,5940],
[6350,6210],[6600,6240],[6850,6200],[7100,6240],[7350,6200],[6700,6450],[7000,6480],[7250,6450],
[960,2345],[1080,2500],[960,2760],[1025,3315],[3050,5445],[2610,5025],[3050,4900],[2780,4465],[2015,4120],[2490,4350],[2470,4150],[7730,6800],[7520,6620],[7730,6360],[7400,5610],[6910,4775],[7020,4465],[6960,4150],[7065,4170],[6360,4200],[6660,4620],[6770,4465],[6550,4520],
[1360,3230],[1200,3230],[1200,3050],[1500,3285],[1710,3460],[1910,3525],[2100,3575],[2240,3980],[2155,3730],[1680,2660],[1890,2420],[2000,2400],[2260,2420],[2365,2660],[2650,2500],[2840,2500],[3085,2680],[1500,3100],
[1800,2600],[2050,2560],[2300,2520],[2560,2590],[2800,2650],[3050,2580],
[1400,2850],[1650,2900],[1900,2820],[2150,2880],[2400,2800],[2650,2870],[2900,2810],[3150,2870],[3400,2800],[3650,2850],[3950,2780],[4100,2900],
[1450,3050],[1700,3100],[1950,3040],[2200,3110],[2450,3030],[2700,3090],[2950,3020],[3200,3080],[3450,3030],[3700,3100],[3950,3040],[4200,3090],
[1750,3300],[2000,3340],[2250,3280],[2500,3330],[2750,3270],[3000,3340],[3250,3290],[3500,3350],[3750,3280],[4000,3330],[4250,3290],[4500,3350],
[2200,3600],[2450,3640],[2700,3580],[2950,3630],[3200,3570],[3450,3640],[3700,3590],[3950,3650],[4200,3580],[4450,3630],[4700,3570],[4950,3620],
[2400,3900],[2650,3950],[2900,3880],[3150,3940],[3400,3890],[3650,3950],[3900,3880],[4150,3930],[4400,3870],[4650,3940],[4900,3890],[5150,3950],[5400,3880],[5650,3860],[5900,3990],
[2650,4120],[2900,4170],[3150,4100],[3400,4160],[3650,4110],[3900,4170],[4150,4100],[4400,4150],[4650,4110],[4900,4170],[5150,4100],[5400,4160],[5650,4110],[5950,4260],
[3000,4350],[3250,4420],[3500,4360],[3750,4420],[4000,4350],[4250,4410],[4500,4350],[4750,4420],[5000,4360],[5250,4420],[5500,4350],[5750,4410],[6000,4370],
[3200,4620],[3450,4680],[3700,4610],[3950,4670],[4200,4620],[4450,4680],[4700,4610],[4950,4660],[5200,4620],[5450,4680],[5700,4610],[5950,4670],[6200,4620],[6400,4680],
[3500,4900],[3750,4950],[4000,4880],[4250,4940],[4500,4890],[4750,4950],[5000,4880],[5250,4930],[5500,4890],[5750,4950],[6000,4880],[6250,4940],[6500,4890],[6750,4950],[6930,5050],
[3500,5250],[3700,5430],[3900,5240],[4200,5130],[4500,5250],[4750,5180],[5000,5240],[5250,5170],[5500,5230],[5750,5190],[6000,5250],[6250,5170],[6500,5230],[6750,5180],[7000,5240],
[4600,5530],[4850,5580],[5100,5510],[5350,5570],[5600,5520],[5850,5580],[6100,5510],[6350,5570],[6600,5520],[6850,5580],[7100,5510],
[5100,5800],[5300,5850],[5600,5780],[5850,5840],[6100,5790],[6350,5850],[6600,5780],[6850,5830],[7100,5790],[7300,5850],[5300,5620],
[5950,6080],[6200,6120],[6450,6060],[6700,6120],[6950,6070],[7200,6130],[7400,6070],
[6300,6340],[6550,6380],[6800,6330],[7050,6390],[7300,6340],[7480,6300]
];

const winterRice = [
[1435,2740],[1840,2690],[1730,2970],[2015,3075],[1890,3180],[2230,2870],[2500,2740],[2185,3370],[2365,3490],[2735,3490],[2970,3680],[2630,3180],[2735,3025],[3105,3160],[3050,3440],[3285,3545],[3395,3860],[3390,2795],[3845,2890],[4055,2835],[4170,3025],[4445,2815],[4635,3200],[4690,3390],[4815,3235],[4455,3285],[3895,3440],[4180,3600],[3580,3390],[3735,3700],[3475,4505],[4370,4735],[5005,4640],[5270,4535],[5110,3860],[5215,3700],[4830,3860],[4750,4480],[4270,4430],[4010,4380],[3685,4170],[4090,4050],[4410,3950],[4630,4150],[4990,4150],[3370,3950],[3000,3300],[3400,3200],[3700,3100],[4000,3250],[3600,3900],[3850,3800],[4100,3800],[4350,3750],[4600,3700],[4900,3650],[3900,4200],[4200,4200],[4450,4200],[4750,4000],[5100,4400],[4800,4350],[4500,4450],[4200,4600],[3700,4400],[3300,3300],
[2600,3350],[2900,3500],[3200,3700],[3500,3600],[3800,3550],[4050,3500],[4300,3400],[3550,3150],[4250,3100],[4550,3550],[3950,3950],[4250,4000],[4550,3950],[4850,4150],[3650,3500],[3100,3550],[2850,3200],[4150,4350],[4650,4350],[5000,4450],
[4740,6445],[4370,6215],[5375,6360],[5690,6505],[5790,6490],[5700,5950],[6100,9175],[6400,9105],[6060,8760],[6115,8395],[6345,8360],[6560,8340],[6640,8215],[6345,8110],[6620,7975],[6170,7550],[6980,8705],[7170,9520],[7115,9210],[7245,9230],[7380,9330],[7540,9125],[7540,9645],[7615,9540],[7675,9925],[7805,9905],[7960,9510],[8070,9960],[8205,9980],[8440,9980],[8680,10540],[8615,10200],[9630,10520],[9895,10720],[10305,10690],[10495,10720],[10675,10480],[10990,10365],[11310,10900],[11470,10810],[11415,10655],[11330,10550],[11530,10550],[11660,10165],[11860,10300],[11815,10060],[11640,9710],[11310,9590],[11235,9310],[12450,9550],[10125,8790],[10390,9090],[9525,8260],[9280,8215],[9145,7850],[9020,7800],[8730,7715],[8545,7530],[8385,7590],[7995,7400],[7800,7370],[7540,7300],[7275,6860],[7170,6725],[6855,6465],[6610,6215],[6190,5945],[5935,6360],[6030,7195],
[5950,6100],[6200,6250],[6450,6200],[6020,6500],[6250,6550],[6500,6480],[6750,6560],[7000,6500],[6050,6800],[6300,6780],[6550,6850],[6800,6800],[7050,6860],[6030,7050],[6250,7080],[6500,7030],[6750,7100],[7000,7050],[7250,7100],[6400,7300],[6650,7350],[6900,7280],[7150,7340],[7400,7280],[6700,7550],[6950,7600],[7200,7530],[7450,7590],[7700,7530],[7950,7600],[8200,7540],
[6800,7800],[7050,7850],[7300,7780],[7550,7840],[7800,7790],[8050,7850],[8300,7780],[8550,7840],[8800,7900],[7000,8050],[7250,8100],[7500,8030],[7750,8090],[8000,8040],[8250,8100],[8500,8030],[8750,8090],[9000,8040],[7200,8300],[7450,8350],[7700,8280],[7950,8340],[8200,8290],[8450,8350],[8700,8280],[8950,8340],[9200,8420],[9500,8350],
[7300,8560],[7550,8620],[7800,8550],[8050,8610],[8300,8560],[8550,8620],[8800,8550],[9050,8610],[9300,8560],[9550,8720],[7650,8820],[7900,8880],[8150,8810],[8400,8870],[8650,8820],[8900,8880],[9150,8810],[9400,8870],[9650,8820],[9900,8880],
[7800,9080],[8050,9130],[8300,9060],[8550,9120],[8800,9070],[9050,9130],[9300,9060],[9550,9110],[9800,9070],[10050,9130],[10300,9280],[10500,9400],[8100,9350],[8350,9400],[8600,9330],[8850,9390],[9100,9340],[9350,9400],[9600,9330],[9850,9380],[10100,9340],[10350,9400],[10600,9330],[10850,9390],[11050,9350],
[8200,9620],[8450,9670],[8700,9600],[8950,9660],[9200,9610],[9450,9670],[9700,9600],[9950,9650],[10200,9610],[10450,9670],[10700,9600],[10950,9660],[11200,9610],[8350,9880],[8600,9930],[8850,9860],[9100,9920],[9350,9870],[9600,9930],[9850,9860],[10100,9910],[10350,9870],[10600,9930],[10850,9860],[11100,9920],[11300,9880],
[9000,10150],[9250,10180],[9500,10130],[9750,10190],[10000,10140],[10250,10190],[10500,10130],[10750,10170],[11000,10120],[11250,10100],
[6120,6380],[6350,6400],[6620,6340],[6880,6680],[6150,6650],[6400,6660],[6650,6700],[6920,6950],[6130,6920],[6380,6900],[6620,6960],[7120,7230],[6520,7180],[6780,7220],[7030,7420],[7300,7450],[6820,7450],[7080,7680],[7330,7690],[7580,7700],[7830,7680],[8080,7700],[8330,7680],[6920,7930],[7170,7970],[7420,7930],[7670,7960],[7920,7920],[8170,7970],[8420,7920],[8670,7960],[8920,7930],
[7120,8180],[7370,8220],[7620,8170],[7870,8210],[8120,8160],[8370,8220],[8620,8170],[8870,8210],[9120,8160],[7380,8460],[7630,8490],[7880,8450],[8130,8480],[8380,8440],[8630,8490],[8880,8450],[9130,8480],[9380,8450],[7480,8720],[7730,8740],[7980,8700],[8230,8740],[8480,8690],[8730,8740],[8980,8700],[9230,8740],[9480,8700],[9730,8740],[7720,8970],[7970,9000],[8220,8960],[8470,8990],[8720,8950],[8970,9000],[9220,8960],[9470,8990],[9720,8950],[9970,9000],[10220,8970],
[7980,9220],[8230,9250],[8480,9210],[8730,9240],[8980,9200],[9230,9250],[9480,9210],[9730,9240],[9980,9200],[10230,9150],[10480,9230],[10730,9210],[10980,9200],[8280,9500],[8530,9530],[8780,9490],[9030,9520],[9280,9480],[9530,9530],[9780,9490],[10030,9520],[10280,9480],[10530,9520],[10780,9480],[11030,9500],
[8280,9750],[8530,9780],[8780,9740],[9030,9770],[9280,9730],[9530,9780],[9780,9740],[10030,9770],[10280,9730],[10530,9780],[10780,9740],[11030,9770],[11180,9750],[8880,10020],[9130,10050],[9380,10010],[9630,10040],[9880,10000],[10130,10050],[10380,10010],[10630,10040],[10880,10000],[11130,10040]
];

// Panel layout (pixels) and axis domains
const svg = document.getElementById('chart');
const marksLayer = document.getElementById('marks');
const NS = 'http://www.w3.org/2000/svg';

function scale(d0, d1, r0, r1) {
  return function (v) { return r0 + (v - d0) * (r1 - r0) / (d1 - d0); };
}
function node(tag, attrs, parent) {
  const el = document.createElementNS(NS, tag);
  for (const k in attrs) el.setAttribute(k, attrs[k]);
  parent.appendChild(el);
  return el;
}
function writeTick(textEl, v) {
  const s = String(v);
  if (v >= 10000) {
    textEl.textContent = s.slice(0, s.length - 3) + ' ';
    const rest = node('tspan', {dx: -3.2}, textEl);
    rest.textContent = s.slice(-3);
  } else {
    textEl.textContent = s;
  }
}

function drawPanel(cfg) {
  const g = node('g', {}, marksLayer);
  
  
  const x = scale(cfg.domain[0], cfg.domain[1], cfg.left, cfg.right);
  const y = scale(cfg.domain[0], cfg.domain[1], cfg.bottom, cfg.top);

  cfg.series.forEach(function (s) {
    const sg = node('g', {fill: s.color, stroke: '#1a1a1a', 'stroke-width': 1.15}, g);
    
    
    s.points.forEach(function (p) {
      const c = node('circle', {cx: x(p[0]).toFixed(1), cy: y(p[1]).toFixed(1), r: 5.1}, sg);
      
      
    });
  });

  const ref = node('line', {
    x1: x(cfg.domain[0]), y1: y(cfg.domain[0]), x2: x(cfg.domain[1]), y2: y(cfg.domain[1]),
    stroke: '#111', 'stroke-width': 1.8, 'stroke-dasharray': '11 8'
  }, g);
  
  

  const frame = node('rect', {
    x: cfg.left, y: cfg.top, width: cfg.right - cfg.left, height: cfg.bottom - cfg.top,
    fill: 'none', stroke: '#333', 'stroke-width': 1.7
  }, g);
  
  

  cfg.ticks.forEach(function (t) {
    const tx = node('line', {x1: x(t), x2: x(t), y1: cfg.bottom, y2: cfg.bottom + 5.5, stroke: '#333', 'stroke-width': 1.4}, g);
    
    
    const lx = node('text', {x: x(t), y: cfg.bottom + 26, 'font-size': 20.6, 'text-anchor': 'middle'}, g);
    
    
    writeTick(lx, t);
    const ty = node('line', {x1: cfg.left - 5.5, x2: cfg.left, y1: y(t), y2: y(t), stroke: '#333', 'stroke-width': 1.4}, g);
    
    
    const ly = node('text', {x: cfg.left - 10, y: y(t) + 7, 'font-size': 20.6, 'text-anchor': 'end'}, g);
    
    
    writeTick(ly, t);
  });

  cfg.legendMarkers.forEach(function (m) {
    const c = node('circle', {cx: cfg.legendX, cy: m.y, r: 5.9, fill: m.color, stroke: '#1a1a1a', 'stroke-width': 1.5}, g);
    
    
  });
  const ld = node('line', {
    x1: cfg.legendDash[0], x2: cfg.legendDash[1], y1: cfg.legendDash[2], y2: cfg.legendDash[2],
    stroke: '#111', 'stroke-width': 1.8, 'stroke-dasharray': '12 7.5'
  }, g);
  
  
}

const YELLOW = '#FFCA0D', RED = '#FF0000', GREEN = '#98C64E';

drawPanel({
  id: 'panel-a', left: 104.8, right: 694.2, top: 20.6, bottom: 610, domain: [-1000, 14000], ticks: ticksA,
  series: [{name: 'single-rice', color: YELLOW, points: singleRice}],
  legendX: 173, legendMarkers: [{name: 'single-rice', y: 49, color: YELLOW}], legendDash: [144, 192, 81]
});
drawPanel({
  id: 'panel-b', left: 769.5, right: 1358.3, top: 20.6, bottom: 610, domain: [-1000, 11000], ticks: ticksB,
  series: [{name: 'early-rice', color: RED, points: earlyRice}, {name: 'late-rice', color: GREEN, points: lateRice}],
  legendX: 840.5, legendMarkers: [{name: 'early-rice', y: 49, color: RED}, {name: 'late-rice', y: 81, color: GREEN}], legendDash: [810.5, 860, 112.7]
});
drawPanel({
  id: 'panel-c', left: 1432.7, right: 2022.1, top: 20.6, bottom: 610, domain: [0, 14000], ticks: ticksC,
  series: [{name: 'spring-rice', color: RED, points: springRice}, {name: 'autumn-rice', color: YELLOW, points: autumnRice}, {name: 'winter-rice', color: GREEN, points: winterRice}],
  legendX: 1508.7, legendMarkers: [{name: 'spring-rice', y: 49, color: RED}, {name: 'autumn-rice', y: 81, color: YELLOW}, {name: 'winter-rice', y: 113, color: GREEN}], legendDash: [1479, 1528.5, 144.5]
});
</script>
</body>
</html>
